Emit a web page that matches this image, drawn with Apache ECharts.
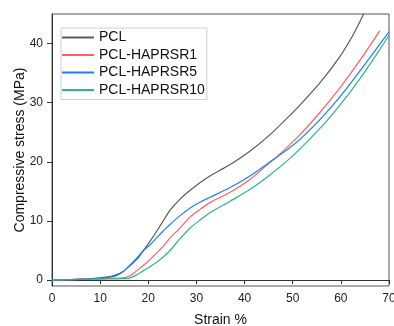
<!DOCTYPE html>
<html>
<head>
<meta charset="utf-8">
<script src="https://cdn.jsdelivr.net/npm/echarts@6/dist/echarts.min.js"></script>
<style>
html,body{margin:0;padding:0;background:#fff;}
#chart{width:394px;height:326px;}
</style>
</head>
<body>
<div id="chart"></div>
<script>
var seriesNames = ['PCL', 'PCL-HAPRSR1', 'PCL-HAPRSR5', 'PCL-HAPRSR10'];
var xTicks = [0, 10, 20, 30, 40, 50, 60, 70];
var yTicks = [0, 10, 20, 30, 40];

var pcl = [[0,0],[4,0.1],[8,0.25],[10,0.4],[12,0.6],[13,0.8],[14,1.1],[15,1.6],[16,2.3],[17.6,3.5],[19,5.0],[20.4,6.6],[22,8.6],[23.1,10.0],[24.5,11.8],[26.6,13.7],[28.7,15.2],[30.8,16.5],[32.8,17.6],[36.9,19.5],[41.1,21.8],[45.3,24.6],[49.1,27.6],[51.5,29.6],[55.6,33.3],[59.8,37.8],[62.5,41.4],[64.5,44.6],[65.2,46]];
var r1 = [[0,0],[4,0.1],[8,0.2],[12,0.3],[14,0.35],[15.5,0.5],[16.5,0.9],[17.6,1.6],[19,2.5],[20.4,3.5],[23.1,5.7],[24.5,7.1],[26.6,8.8],[28.7,10.7],[30.8,12.0],[32.8,13.1],[36.9,14.8],[41.1,17.0],[45.3,19.9],[47.3,21.3],[51.5,24.6],[55.6,28.3],[59.8,32.5],[63.9,37.1],[68.1,42.2]];
var r5 = [[0,0],[4,0.1],[8,0.2],[10,0.3],[12,0.5],[13.5,0.8],[14.9,1.5],[16,2.4],[17.6,3.7],[19,5.0],[20.4,6.0],[22,7.4],[23.1,8.3],[24.5,9.4],[26.6,10.9],[28.7,12.2],[30.8,13.2],[32.8,14.0],[36.9,15.6],[41.1,17.6],[45.3,20.0],[49.1,22.2],[51.5,23.8],[55.6,27.1],[59.8,31.0],[63.9,35.3],[68.1,39.9],[70,42.0]];
var r10 = [[0,0],[4,0.05],[8,0.15],[12,0.2],[15,0.25],[15.9,0.3],[17.6,0.9],[19,1.6],[20.4,2.3],[22,3.2],[23.1,3.9],[24.5,5.0],[26.6,7.0],[28.7,8.8],[30.8,10.2],[32.8,11.4],[36.9,13.3],[41.1,15.3],[45.3,17.8],[50,21.0],[55.6,25.6],[59.8,29.6],[63.9,34.0],[68.1,39.0],[70,41.4]];

var allData = [pcl, r1, r5, r10];
var colors = ['#5a5a5a', '#ff6060', '#1e7ff0', '#2fb587'];

var chart = echarts.init(document.getElementById('chart'), null, {renderer: 'canvas'});
var axisColor = '#333';
chart.setOption({
  animation: false,
  backgroundColor: '#fff',
  grid: {left: 52, right: 5, top: 14, bottom: 40, containLabel: false, outerBoundsMode: 'none', show: true, borderColor: '#555', borderWidth: 1, backgroundColor: 'transparent'},
  legend: {
    orient: 'vertical', left: 61, top: 28,
    padding: [1, 2, 1, 1],
    itemWidth: 32, itemHeight: 2, itemGap: 0.5,
    icon: 'rect',
    borderColor: '#cfcfcf', borderWidth: 1, backgroundColor: '#fff',
    textStyle: {fontFamily: 'Liberation Sans, Arial', fontSize: 14, color: '#111', lineHeight: 17},
    data: seriesNames
  },
  xAxis: {
    type: 'value', min: 0, max: 70, interval: 10,
    name: 'Strain %', nameLocation: 'middle', nameGap: 27,
    nameTextStyle: {fontFamily: 'Liberation Sans, Arial', fontSize: 14, color: '#111'},
    axisLine: {show: true, lineStyle: {color: axisColor}},
    axisTick: {show: true, length: 4, lineStyle: {color: axisColor}},
    axisLabel: {fontFamily: 'Liberation Sans, Arial', fontSize: 12, color: '#222', margin: 7, customValues: xTicks},
    splitLine: {show: false}
  },
  yAxis: {
    type: 'value', min: -1, max: 45,
    name: 'Compressive stress (MPa)', nameLocation: 'middle', nameGap: 25, nameRotate: 90,
    nameMoveOverlap: false,
    nameTextStyle: {fontFamily: 'Liberation Sans, Arial', fontSize: 14, color: '#111'},
    axisLine: {show: true, lineStyle: {color: axisColor}},
    axisTick: {show: true, length: 5, lineStyle: {color: axisColor}, customValues: yTicks},
    axisLabel: {fontFamily: 'Liberation Sans, Arial', fontSize: 12, color: '#222', margin: 9, customValues: yTicks},
    splitLine: {show: false}
  },
  series: seriesNames.map(function (n, i) {
    return {
      name: n, type: 'line', data: allData[i], smooth: 0.3,
      showSymbol: false, symbol: 'none', clip: true,
      lineStyle: {color: colors[i], width: 1.2},
      itemStyle: {color: colors[i]}
    };
  })
});
</script>
</body>
</html>
